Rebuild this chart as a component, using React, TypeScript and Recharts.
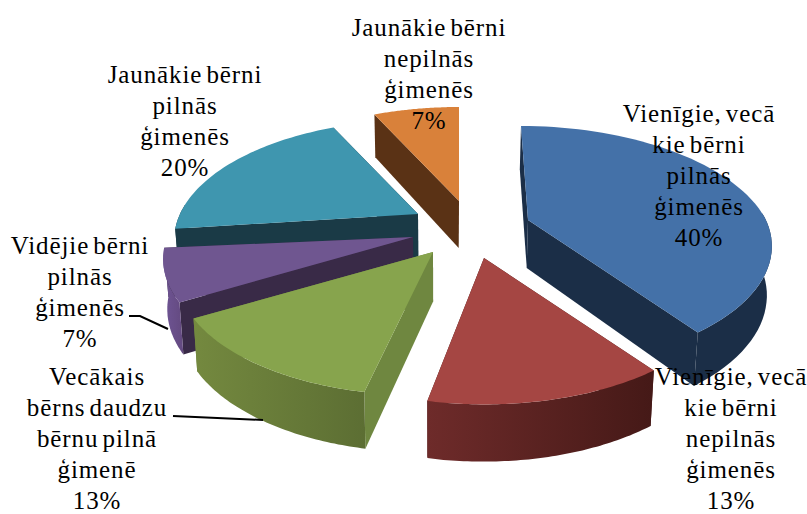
import { PieChart, Pie } from "recharts";

// back slices come first; the last two go in a second Pie so they paint on top
const categories = [
  ["Jaunākie bērni", "pilnās", "ģimenēs"],
  ["Jaunākie bērni", "nepilnās", "ģimenēs"],
  ["Vienīgie, vecā", "kie bērni", "pilnās", "ģimenēs"],
  ["Vienīgie, vecā", "kie bērni", "nepilnās", "ģimenēs"],
  ["Vidējie bērni", "pilnās", "ģimenēs"],
  ["Vecākais", "bērns daudzu", "bērnu pilnā", "ģimenē"],
];
const shares = [20, 7, 40, 13, 7, 13];

const chartData = categories.map((lines, i) => ({
  name: lines.join(" "),
  value: shares[i],
}));
const BACK_COUNT = 4;
const backData = chartData.slice(0, BACK_COUNT);
const frontData = chartData.slice(BACK_COUNT);

const CX = 440;
const CY = 230;
const RADIUS = 238;
const Y_SCALE = 0.481;
const PERSPECTIVE = 0.218;

// per-slice look: apex offset from the centre, arc nudge, face colours, label anchor
const sliceStyles: any[] = [
  { dx: -22, dy: -16, arcDx: 0, arcDy: 0, topDx: 0, top: "#3F96AF", wall: "#1A3A46", rim: ["#1A3A46", "#1A3A46"], labelX: 185, labelY: 83 },
  { dx: 19, dy: -29, arcDx: 0, arcDy: 0, topDx: 0, top: "#D9813A", wall: "#5A3215", rim: ["#5A3215", "#5A3215"], labelX: 429, labelY: 36 },
  { dx: 88, dy: -10, arcDx: 0, arcDy: 0, topDx: -7, top: "#4471A8", wall: "#1B2E47", rim: ["#1B2E47", "#1B2E47"], labelX: 699, labelY: 122 },
  { dx: 44, dy: 28, arcDx: 0, arcDy: 0, topDx: 0, top: "#A54643", wall: "#451917", rim: ["#6E2B2A", "#451917"], labelX: 731, labelY: 385 },
  { dx: -27, dy: 7, arcDx: -6, arcDy: -4, topDx: 0, top: "#6F5690", wall: "#392A47", rim: ["#6F5595", "#63497F"], labelX: 80, labelY: 254, leader: "129,316 140,316 168,329" },
  { dx: -7, dy: 22, arcDx: -12, arcDy: -3, topDx: 0, top: "#87A44D", wall: "#6F8740", rim: ["#74893F", "#5C6E33"], labelX: 97, labelY: 385, leader: "173,416 263,420" },
];

type Pt = [number, number];

// tilted disc with a little perspective; front edge comes out larger
function project(angle: number, radius: number, ax: number, ay: number, style: any): Pt {
  const rad = (angle * Math.PI) / 180;
  const sin = Math.sin(rad);
  const w = 1 + PERSPECTIVE * sin;
  return [
    ax + (radius * Math.cos(rad)) / w + style.arcDx + style.topDx * Math.max(sin, 0),
    ay - (radius * Y_SCALE * sin) / w + style.arcDy,
  ];
}

function drop([x, y]: Pt): Pt {
  const depth = 47 + 0.05 * (y - 200);
  return [CX + (x - CX) * 0.985, y + depth];
}

function toPoints(pts: Pt[]) {
  return pts.map((p) => `${p[0].toFixed(1)},${p[1].toFixed(1)}`).join(" ");
}

function Slice3D(props: any) {
  const { cx, cy, outerRadius, startAngle, endAngle, styleIndex } = props;
  const style = sliceStyles[styleIndex];
  const ax = cx + style.dx;
  const ay = cy + style.dy;
  const apex: Pt = [ax, ay];

  const arc: number[] = [];
  const steps = 60;
  for (let i = 0; i <= steps; i++) {
    arc.push(startAngle + ((endAngle - startAngle) * i) / steps);
  }
  const arcPts = arc.map((a) => project(a, outerRadius, ax, ay, style));
  const frontPts = arc
    .filter((a) => Math.sin((a * Math.PI) / 180) < 0.1)
    .map((a) => project(a, outerRadius, ax, ay, style));
  const first = arcPts[0];
  const last = arcPts[arcPts.length - 1];
  const gradientId = `rim-${styleIndex}`;

  return (
    <g>
      <defs>
        <linearGradient id={gradientId} x1="0" y1="0" x2="1" y2="0">
          <stop offset="0%" stopColor={style.rim[0]} />
          <stop offset="100%" stopColor={style.rim[1]} />
        </linearGradient>
      </defs>
      <polygon points={toPoints([apex, first, drop(first), drop(apex)])} fill={style.wall} />
      <polygon points={toPoints([apex, last, drop(last), drop(apex)])} fill={style.wall} />
      {frontPts.length > 1 && (
        <polygon
          points={toPoints([...frontPts, ...frontPts.map(drop).reverse()])}
          fill={`url(#${gradientId})`}
        />
      )}
      <polygon points={toPoints([apex, ...arcPts])} fill={style.top} />
    </g>
  );
}

function SliceLabel({ styleIndex, value }: { styleIndex: number; value: number }) {
  const style = sliceStyles[styleIndex];
  const lines = [...categories[styleIndex], `${value}%`];
  return (
    <g>
      {style.leader && (
        <polyline points={style.leader} fill="none" stroke="#000" strokeWidth={2} />
      )}
      <text
        x={style.labelX}
        y={style.labelY}
        textAnchor="middle"
        fill="#000"
        style={{
          fontFamily: '"Liberation Serif", "Times New Roman", serif',
          fontSize: 25,
          letterSpacing: 0.9,
          wordSpacing: -3,
        }}
      >
        {lines.map((line, i) => (
          <tspan key={i} x={style.labelX} dy={i === 0 ? 0 : 31}>
            {line}
          </tspan>
        ))}
      </text>
    </g>
  );
}

export default function App() {
  return (
    <div style={{ position: "absolute", left: 0, top: 0, width: 807, height: 514, background: "#fff" }}>
      <PieChart width={807} height={514} margin={{ top: 0, right: 0, bottom: 0, left: 0 }}>
        <Pie
          data={backData}
          dataKey="value"
          nameKey="name"
          cx={CX}
          cy={CY}
          outerRadius={RADIUS}
          startAngle={-172.8}
          endAngle={-460.8}
          stroke="none"
          shape={(p: any) => <Slice3D {...p} styleIndex={p.index} />}
          label={(p: any) => <SliceLabel styleIndex={p.index} value={p.value} />}
          labelLine={false}
          isAnimationActive={false}
        />
        <Pie
          data={frontData}
          dataKey="value"
          nameKey="name"
          cx={CX}
          cy={CY}
          outerRadius={RADIUS}
          startAngle={-172.8}
          endAngle={-100.8}
          stroke="none"
          shape={(p: any) => <Slice3D {...p} styleIndex={p.index + BACK_COUNT} />}
          label={(p: any) => <SliceLabel styleIndex={p.index + BACK_COUNT} value={p.value} />}
          labelLine={false}
          isAnimationActive={false}
        />
      </PieChart>
    </div>
  );
}
